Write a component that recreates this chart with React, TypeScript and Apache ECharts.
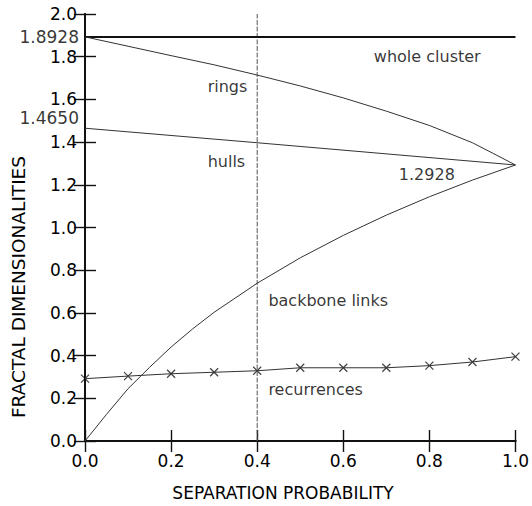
import React, { useEffect, useRef } from 'react';
import * as echarts from 'echarts';

// Separation probability grid for sampled curves
const ringsP = [0, 0.1, 0.2, 0.3, 0.4, 0.5, 0.6, 0.7, 0.8, 0.9, 0.95, 1.0];
const ringsD = [1.8928, 1.849, 1.805, 1.762, 1.714, 1.663, 1.607, 1.545, 1.478, 1.397, 1.345, 1.2928];

const hullsP = [0, 0.4, 1.0];
const hullsD = [1.465, 1.397, 1.2928];

const backboneP = [0, 0.05, 0.1, 0.15, 0.2, 0.25, 0.3, 0.4, 0.5, 0.6, 0.7, 0.8, 0.9, 1.0];
const backboneD = [0, 0.125, 0.245, 0.345, 0.44, 0.525, 0.603, 0.739, 0.858, 0.963, 1.058, 1.144, 1.222, 1.2928];

const recurP = [0, 0.1, 0.2, 0.3, 0.4, 0.5, 0.6, 0.7, 0.8, 0.9, 1.0];
const recurD = [0.292, 0.304, 0.315, 0.322, 0.329, 0.343, 0.343, 0.343, 0.353, 0.37, 0.395];

const wholeClusterP = [0, 1];
const wholeClusterD = 1.8928;

const markerP = 0.4;
const yRange = [0, 2];

const extraYLabels = ['1.8928', '1.4650'];
const extraYValues = [1.8928, 1.465];

const noteTexts = ['whole cluster', 'rings', 'hulls', '1.2928', 'backbone links', 'recurrences'];
const notePosP = [0.671, 0.285, 0.285, 0.729, 0.426, 0.426];
const notePosD = [1.803, 1.66, 1.311, 1.25, 0.657, 0.239];

const FONT = 'DejaVu Sans';
const INK = '#000';

function zip(xs: number[], ys: number[]) {
  return xs.map((x, i) => [x, ys[i]]);
}

export default function App() {
  const ref = useRef<HTMLDivElement>(null);

  useEffect(() => {
    const chart = echarts.init(ref.current!, null, { renderer: 'svg' });

    const axisLine = { show: true, lineStyle: { color: '#111', width: 2 } };
    const axisTick = { show: true, inside: true, length: 11, lineStyle: { color: '#111', width: 1.4 } };
    const fmt = (v: number) => v.toFixed(1);

    const xBase = { type: 'value', min: 0, max: 1, interval: 0.2, splitLine: { show: false }, axisLine, axisTick };
    const yBase = { type: 'value', min: 0, max: 2, interval: 0.2, splitLine: { show: false }, axisLine, axisTick };

    const gapIdx = recurP.map((_, i) => i).filter((i) => i > 0 && i < recurP.length - 1 && recurP[i] !== markerP);

    const option: any = {
      animation: false,
      backgroundColor: '#fff',
      grid: { left: 85, right: 15, top: 14, bottom: 65 },
      xAxis: [
        {
          ...xBase,
          position: 'bottom',
          axisLabel: { fontSize: 17, color: INK, fontFamily: FONT, margin: 11, formatter: fmt },
        },
        { ...xBase, position: 'top', axisLabel: { show: false } },
      ],
      yAxis: [
        {
          ...yBase,
          position: 'left',
          axisLabel: { fontSize: 17, color: INK, fontFamily: FONT, margin: 8, formatter: fmt },
        },
        { ...yBase, position: 'right', axisLabel: { show: false } },
      ],
      series: [
        {
          type: 'line',
          data: [
            [markerP, yRange[0]],
            [markerP, yRange[1]],
          ],
          showSymbol: false,
          lineStyle: { color: '#555', width: 1, type: [5, 1.5] },
          silent: true,
        },
        {
          type: 'line',
          data: wholeClusterP.map((p) => [p, wholeClusterD]),
          showSymbol: false,
          lineStyle: { color: '#111', width: 2 },
          silent: true,
        },
        {
          type: 'line',
          data: zip(ringsP, ringsD),
          showSymbol: false,
          lineStyle: { color: '#333', width: 1 },
          silent: true,
        },
        {
          type: 'line',
          data: zip(hullsP, hullsD),
          showSymbol: false,
          lineStyle: { color: '#333', width: 1 },
          silent: true,
        },
        {
          type: 'line',
          data: zip(backboneP, backboneD),
          showSymbol: false,
          lineStyle: { color: '#333', width: 1 },
          silent: true,
        },
        {
          type: 'line',
          data: zip(recurP, recurD),
          showSymbol: false,
          lineStyle: { color: '#333', width: 1 },
          silent: true,
        },
        {
          type: 'scatter',
          data: gapIdx.map((i) => [recurP[i], recurD[i]]),
          symbol: 'circle',
          symbolSize: 11,
          itemStyle: { color: '#fff' },
          silent: true,
        },
        {
          type: 'scatter',
          data: zip(recurP, recurD),
          symbol: 'path://M0,0L10,10M10,0L0,10',
          symbolSize: 8,
          itemStyle: { color: 'none', borderColor: '#111', borderWidth: 1.2 },
          clip: false,
          silent: true,
        },
        {
          type: 'scatter',
          data: extraYValues.map((v, i) => ({ value: [0, v], name: extraYLabels[i] })),
          symbolSize: 0,
          clip: false,
          silent: true,
          label: {
            show: true,
            position: 'left',
            distance: 6,
            fontSize: 17,
            fontFamily: FONT,
            color: INK,
            formatter: (p: any) => p.name,
          },
          labelLayout: (p: any) => (p.dataIndex === 1 ? { dy: -10 } : {}),
        },
        {
          type: 'scatter',
          data: noteTexts.map((t, i) => ({ value: [notePosP[i], notePosD[i]], name: t })),
          symbolSize: 0,
          clip: false,
          silent: true,
          z: 10,
          label: {
            show: true,
            position: 'right',
            distance: 0,
            fontSize: 16,
            fontFamily: FONT,
            color: INK,
            formatter: (p: any) => p.name,
          },
        },
      ],
      graphic: [
        {
          type: 'text',
          x: 283,
          y: 493,
          style: {
            text: 'SEPARATION PROBABILITY',
            fontSize: 17,
            fontFamily: FONT,
            fill: INK,
            align: 'center',
            verticalAlign: 'middle',
          },
        },
        {
          type: 'text',
          x: 18,
          y: 287,
          rotation: Math.PI / 2,
          style: {
            text: 'FRACTAL DIMENSIONALITIES',
            fontSize: 18.5,
            fontFamily: FONT,
            fill: INK,
            align: 'center',
            verticalAlign: 'middle',
          },
        },
      ],
    };

    chart.setOption(option);
    return () => chart.dispose();
  }, []);

  return (
    <div
      ref={ref}
      style={{ position: 'fixed', left: 0, top: 0, width: 532, height: 506, background: '#fff' }}
    />
  );
}
